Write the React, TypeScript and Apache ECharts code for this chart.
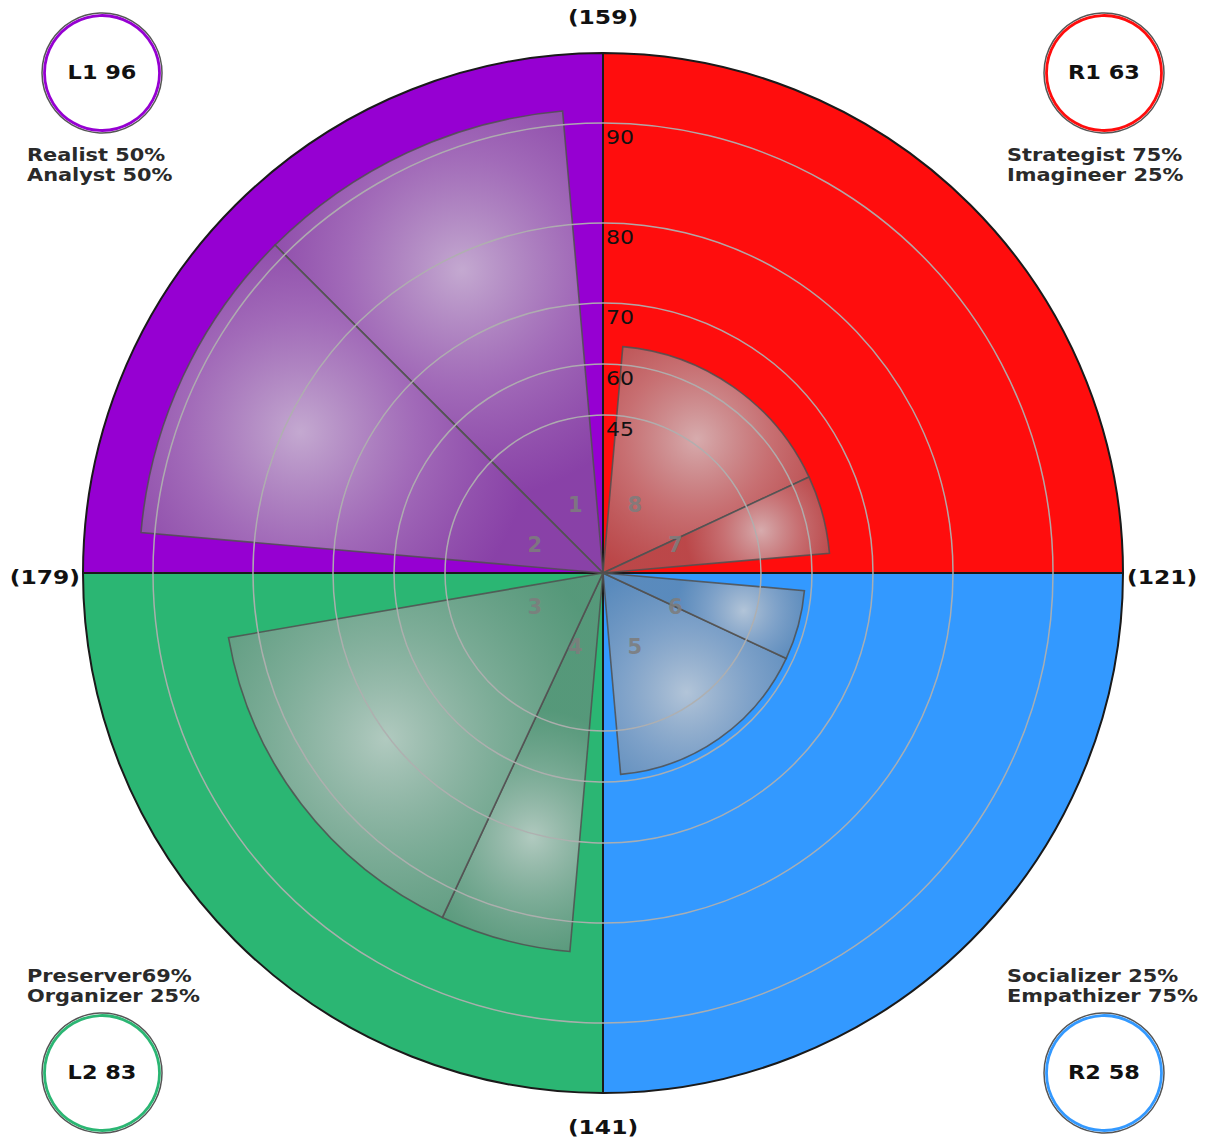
import React, { useEffect, useRef } from 'react';
import * as echarts from 'echarts';

// ---------------- data ----------------
const QUADRANT_KEYS = ['L1', 'R1', 'R2', 'L2'];
const QUADRANT_SCORES = [96, 63, 58, 83];
const QUADRANT_COLORS = ['#9600D2', '#FF0D0D', '#3399FF', '#2BB673'];
const QUADRANT_CAPTIONS = [
  ['Realist 50%', 'Analyst 50%'],
  ['Strategist 75%', 'Imagineer 25%'],
  ['Socializer 25%', 'Empathizer 75%'],
  ['Preserver69%', 'Organizer 25%'],
];
const SEGMENT_NUMBERS = [1, 2, 3, 4, 5, 6, 7, 8];
const SEGMENT_NAMES = ['Realist', 'Analyst', 'Preserver', 'Organizer', 'Empathizer', 'Socializer', 'Imagineer', 'Strategist'];
const SEGMENT_PERCENTS = [50, 50, 69, 25, 75, 25, 25, 75];
const SEGMENT_QUADRANTS = ['L1', 'L1', 'L2', 'L2', 'R2', 'R2', 'R1', 'R1'];
const RING_VALUES = [45, 60, 70, 80, 90];
// non-linear value scale -> radius-axis units (axis 0..100 = outer rim)
const SCALE_VALUES = [0, 45, 60, 70, 80, 90, 100];
const SCALE_UNITS = [0, 30.38, 40.19, 51.92, 67.31, 86.54, 90.96];

// ---------------- layout ----------------
const W = 1210;
const H = 1142;
const CX = 603;
const CY = 573;
const R = 520;
const PAD = 5;
const USABLE = 80;
const QUAD_RANGE: Record<string, [number, number]> = { L1: [270, 360], R1: [0, 90], R2: [90, 180], L2: [180, 270] };
const QUAD_VERTICAL: Record<string, number> = { L1: 360, R1: 0, R2: 180, L2: 180 };
const QUAD_DIR: Record<string, number> = { L1: -1, R1: 1, R2: -1, L2: 1 };
const FONT = '"DejaVu Sans", Verdana, sans-serif';

function toUnits(v: number): number {
  for (let i = 1; i < SCALE_VALUES.length; i++) {
    if (v <= SCALE_VALUES[i]) {
      const t = (v - SCALE_VALUES[i - 1]) / (SCALE_VALUES[i] - SCALE_VALUES[i - 1]);
      return SCALE_UNITS[i - 1] + t * (SCALE_UNITS[i] - SCALE_UNITS[i - 1]);
    }
  }
  return SCALE_UNITS[SCALE_UNITS.length - 1];
}

function sectorAngles(api: any, cx: number, cy: number, u: number, a1: number, a2: number) {
  const p1 = api.coord([u, a1]);
  const p2 = api.coord([u, a2]);
  const r = Math.hypot(p1[0] - cx, p1[1] - cy);
  const s = Math.atan2(p1[1] - cy, p1[0] - cx);
  let e = Math.atan2(p2[1] - cy, p2[0] - cx);
  if (e <= s) e += Math.PI * 2;
  return { r, s, e };
}

function buildOption() {
  const scoreOf = (k: string) => QUADRANT_SCORES[QUADRANT_KEYS.indexOf(k)];

  const quadData = QUADRANT_KEYS.map((k, i) => [100, QUAD_RANGE[k][0], QUAD_RANGE[k][1], i]);

  const segData: number[][] = [];
  QUADRANT_KEYS.forEach((k, qi) => {
    const dir = QUAD_DIR[k];
    const idxs = SEGMENT_QUADRANTS.map((q, i) => (q === k ? i : -1)).filter((i) => i >= 0);
    idxs.sort((a, b) => (dir < 0 ? SEGMENT_NUMBERS[a] - SEGMENT_NUMBERS[b] : SEGMENT_NUMBERS[b] - SEGMENT_NUMBERS[a]));
    let a = QUAD_VERTICAL[k] + dir * PAD;
    idxs.forEach((i) => {
      const span = (SEGMENT_PERCENTS[i] / 100) * USABLE;
      const b = a + dir * span;
      segData.push([toUnits(QUADRANT_SCORES[qi]), Math.min(a, b), Math.max(a, b), SEGMENT_NUMBERS[i], qi]);
      a = b;
    });
  });

  const labelUnits = (75 / R) * 100;
  const labelData = SEGMENT_NUMBERS.map((n) => [labelUnits, 360 - (n - 0.5) * 45, n]);
  const ringData = RING_VALUES.map((v) => [toUnits(v), 0, v]);

  const totals = {
    top: scoreOf('L1') + scoreOf('R1'),
    right: scoreOf('R1') + scoreOf('R2'),
    bottom: scoreOf('L2') + scoreOf('R2'),
    left: scoreOf('L1') + scoreOf('L2'),
  };

  const cornerPos = [
    { x: CX - 501, y: CY - 500, capX: 27, capY: 155 },
    { x: CX + 501, y: CY - 500, capX: 1007, capY: 155 },
    { x: CX + 501, y: CY + 500, capX: 1007, capY: 976 },
    { x: CX - 501, y: CY + 500, capX: 27, capY: 976 },
  ];

  const graphics: any[] = [];
  QUADRANT_KEYS.forEach((k, i) => {
    const c = cornerPos[i];
    graphics.push(
      { type: 'circle', shape: { cx: c.x, cy: c.y, r: 60 }, style: { fill: '#ffffff', stroke: '#555', lineWidth: 1.5 } },
      { type: 'circle', shape: { cx: c.x, cy: c.y, r: 57.5 }, style: { fill: 'none', stroke: QUADRANT_COLORS[i], lineWidth: 2.8 } },
      {
        type: 'text', x: c.x, y: c.y - 1, scaleX: 1.12,
        style: { text: `${k} ${QUADRANT_SCORES[i]}`, fontFamily: FONT, fontSize: 20, fontWeight: 'bold', fill: '#111', align: 'center', verticalAlign: 'middle' },
      },
    );
    QUADRANT_CAPTIONS[i].forEach((t, li) => {
      graphics.push({
        type: 'text', x: c.capX, y: c.capY + li * 20, scaleX: 1.16,
        style: { text: t, fontFamily: FONT, fontSize: 18, fontWeight: 'bold', fill: '#2a2a2a', align: 'left', verticalAlign: 'middle' },
      });
    });
  });
  const totalStyle = { fontFamily: FONT, fontSize: 20, fontWeight: 'bold', fill: '#111', verticalAlign: 'middle' };
  graphics.push(
    { type: 'text', x: CX, y: 17, scaleX: 1.17, style: { ...totalStyle, text: `(${totals.top})`, align: 'center' } },
    { type: 'text', x: CX, y: 1127, scaleX: 1.17, style: { ...totalStyle, text: `(${totals.bottom})`, align: 'center' } },
    { type: 'text', x: 80, y: 577, scaleX: 1.17, style: { ...totalStyle, text: `(${totals.left})`, align: 'right' } },
    { type: 'text', x: 1127, y: 577, scaleX: 1.17, style: { ...totalStyle, text: `(${totals.right})`, align: 'left' } },
  );

  return {
    animation: false,
    polar: { center: [CX, CY], radius: R },
    angleAxis: { type: 'value', min: 0, max: 360, startAngle: 90, clockwise: true, show: false },
    radiusAxis: { type: 'value', min: 0, max: 100, show: false },
    graphic: { elements: graphics },
    series: [
      {
        type: 'custom', name: 'quadrants', coordinateSystem: 'polar', silent: true, z: 1,
        encode: { radius: 0, angle: 1 },
        data: quadData,
        renderItem: (params: any, api: any) => {
          const cs = params.coordSys;
          const g = sectorAngles(api, cs.cx, cs.cy, api.value(0), api.value(1), api.value(2));
          return {
            type: 'sector',
            shape: { cx: cs.cx, cy: cs.cy, r0: 0, r: g.r, startAngle: g.s, endAngle: g.e, clockwise: true },
            style: { fill: QUADRANT_COLORS[api.value(3)], stroke: '#1a1a1a', lineWidth: 2 },
          };
        },
      },
      {
        type: 'custom', name: 'segments', coordinateSystem: 'polar', silent: true, z: 2,
        encode: { radius: 0, angle: 1 },
        data: segData,
        renderItem: (params: any, api: any) => {
          const cs = params.coordSys;
          const u = api.value(0);
          const a1 = api.value(1);
          const a2 = api.value(2);
          const g = sectorAngles(api, cs.cx, cs.cy, u, a1, a2);
          const half = (g.e - g.s) / 2;
          const m = api.coord([u * 0.72, (a1 + a2) / 2]);
          const gr = g.r * (0.17 + 0.77 * Math.sin(half) * 1.25);
          return {
            type: 'sector',
            shape: { cx: cs.cx, cy: cs.cy, r0: 0, r: g.r, startAngle: g.s, endAngle: g.e, clockwise: true },
            style: {
              fill: {
                type: 'radial', x: m[0], y: m[1], r: gr, global: true,
                colorStops: [
                  { offset: 0, color: 'rgba(206,206,208,0.82)' },
                  { offset: 0.5, color: 'rgba(168,166,170,0.64)' },
                  { offset: 1, color: 'rgba(125,125,128,0.52)' },
                ],
              },
              stroke: 'rgba(80,80,80,0.85)',
              lineWidth: 1.6,
            },
          };
        },
      },
      {
        type: 'custom', name: 'rings', coordinateSystem: 'polar', silent: true, z: 3,
        encode: { radius: 0, angle: 1 },
        data: ringData,
        renderItem: (params: any, api: any) => {
          const cs = params.coordSys;
          const p = api.coord([api.value(0), 0]);
          const r = Math.hypot(p[0] - cs.cx, p[1] - cs.cy);
          return {
            type: 'group',
            children: [
              { type: 'circle', shape: { cx: cs.cx, cy: cs.cy, r }, style: { fill: 'none', stroke: 'rgba(175,175,175,0.95)', lineWidth: 1.5 } },
              {
                type: 'text', x: p[0] + 3, y: p[1] + 13.5, scaleX: 1.1, z2: 10,
                style: { text: String(api.value(2)), fontFamily: FONT, fontSize: 20, fill: '#111', align: 'left', verticalAlign: 'middle' },
              },
            ],
          };
        },
      },
      {
        type: 'custom', name: 'segmentNumbers', coordinateSystem: 'polar', silent: true, z: 4,
        encode: { radius: 0, angle: 1 },
        data: labelData,
        renderItem: (params: any, api: any) => {
          const p = api.coord([api.value(0), api.value(1)]);
          const n = api.value(2);
          const dx = n >= 5 ? 3 : 1;
          const dy = n >= 3 && n <= 6 ? 5 : 1;
          return {
            type: 'text', x: p[0] + dx, y: p[1] + dy,
            style: { text: String(n), fontFamily: FONT, fontSize: 21, fontWeight: 'bold', fill: 'rgba(125,125,125,0.9)', align: 'center', verticalAlign: 'middle' },
          };
        },
      },
    ],
  };
}

export default function App() {
  const ref = useRef<HTMLDivElement>(null);
  useEffect(() => {
    if (!ref.current) return;
    const chart = echarts.init(ref.current, undefined, { renderer: 'svg' });
    chart.setOption(buildOption() as any);
    return () => chart.dispose();
  }, []);
  return <div ref={ref} style={{ position: 'absolute', left: 0, top: 0, width: W, height: H, background: '#ffffff' }} />;
}
